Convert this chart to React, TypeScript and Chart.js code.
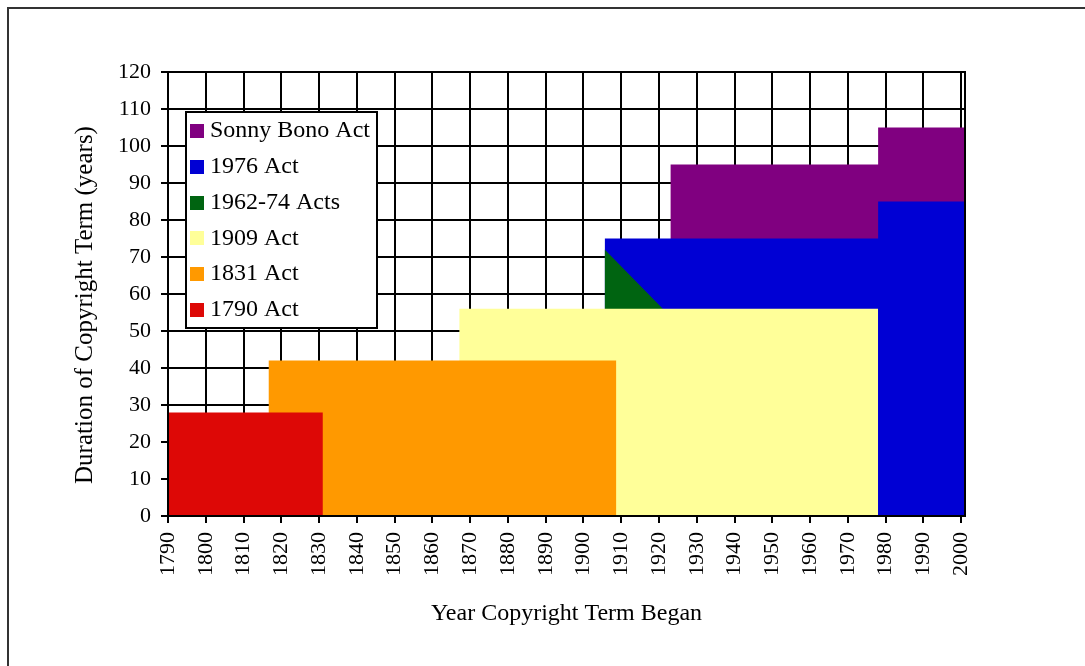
import React, { useEffect, useRef } from 'react';
import { Chart, registerables } from 'chart.js';

Chart.register(...registerables);

const FONT = '"Liberation Serif", "Times New Roman", serif';

// Tick labels
const yearTicks = [1790, 1800, 1810, 1820, 1830, 1840, 1850, 1860, 1870, 1880, 1890, 1900, 1910, 1920, 1930, 1940, 1950, 1960, 1970, 1980, 1990, 2000];
const termTicks = [0, 10, 20, 30, 40, 50, 60, 70, 80, 90, 100, 110, 120];

// Series (drawn back-to-front: last one is at the back)
const seriesNames = ['1790 Act', '1831 Act', '1909 Act', '1962-74 Acts', '1976 Act', 'Sonny Bono Act'];
const seriesColors = ['#DD0806', '#FF9900', '#FFFF99', '#006411', '#0000D4', '#800080'];

const act1790Years = [1790, 1831, 1831];
const act1790Terms = [28, 28, 0];

const act1831Years = [1816.6, 1816.6, 1908.7, 1908.7];
const act1831Terms = [0, 42, 42, 0];

const act1909Years = [1867.1, 1867.1, 1978, 1978];
const act1909Terms = [0, 56, 56, 0];

const acts1962Years = [1905.6, 1905.6, 1921, 1921];
const acts1962Terms = [0, 72, 56, 0];

const act1976Years = [1905.6, 1905.6, 1978, 1978, 2001, 2001];
const act1976Terms = [0, 75, 75, 85, 85, 0];

const bonoYears = [1923, 1923, 1978, 1978, 2001, 2001];
const bonoTerms = [0, 95, 95, 105, 105, 0];

const xTitle = 'Year Copyright Term Began';
const yTitle = 'Duration of Copyright Term (years)';

const framePlugin = {
  id: 'frameAndLegend',
  afterDatasetsDraw(chart: any) {
    const { ctx, chartArea } = chart;
    ctx.save();
    // plot-area frame drawn over the areas
    ctx.strokeStyle = '#000';
    ctx.lineWidth = 2;
    ctx.strokeRect(chartArea.left, chartArea.top, chartArea.right - chartArea.left, chartArea.bottom - chartArea.top);

    // legend box
    const bx = 186, by = 112, bw = 191, bh = 216;
    ctx.fillStyle = '#fff';
    ctx.fillRect(bx, by, bw, bh);
    ctx.strokeRect(bx, by, bw, bh);
    ctx.font = `24px ${FONT}`;
    ctx.textBaseline = 'middle';
    ctx.textAlign = 'left';
    const ds = chart.data.datasets;
    for (let i = 0; i < ds.length; i++) {
      const d = ds[ds.length - 1 - i];
      const cy = 131 + i * 35.8;
      ctx.fillStyle = d.backgroundColor;
      ctx.fillRect(190, Math.round(cy - 7), 14, 14);
      ctx.fillStyle = '#000';
      ctx.fillText(d.label, 210, cy);
    }

    // y axis title
    ctx.translate(85.5, 305);
    ctx.rotate(-Math.PI / 2);
    ctx.font = `25px ${FONT}`;
    ctx.textAlign = 'center';
    ctx.textBaseline = 'middle';
    ctx.fillStyle = '#000';
    ctx.fillText(yTitle, 0, 0);
    ctx.restore();
  },
};

export default function App() {
  const ref = useRef<HTMLCanvasElement>(null);

  useEffect(() => {
    const canvas = ref.current;
    if (!canvas) return;
    const mk = (xs: number[], ys: number[]) => xs.map((x, i) => ({ x, y: ys[i] }));
    const seriesPoints = [
      mk(act1790Years, act1790Terms),
      mk(act1831Years, act1831Terms),
      mk(act1909Years, act1909Terms),
      mk(acts1962Years, acts1962Terms),
      mk(act1976Years, act1976Terms),
      mk(bonoYears, bonoTerms),
    ];
    const chart = new Chart(canvas, {
      type: 'line',
      data: {
        datasets: seriesNames.map((name, i) => ({
          label: name,
          data: seriesPoints[i],
          backgroundColor: seriesColors[i],
          borderColor: seriesColors[i],
          borderWidth: 0,
          pointRadius: 0,
          fill: 'origin',
          tension: 0,
        })),
      },
      options: {
        responsive: false,
        animation: false,
        layout: { padding: { left: 0, right: 120, top: 72, bottom: 0 } },
        plugins: { legend: { display: false }, tooltip: { enabled: false } },
        scales: {
          x: {
            type: 'linear',
            min: 1790,
            max: 2001,
            afterBuildTicks: (s: any) => {
              s.ticks = yearTicks.map((v) => ({ value: v }));
            },
            afterFit: (s: any) => {
              s.height = 150;
            },
            ticks: {
              autoSkip: false,
              minRotation: 90,
              maxRotation: 90,
              padding: 9,
              color: '#000',
              font: { family: FONT, size: 22 },
              callback: (v: any) => String(v),
            },
            grid: { color: '#000', lineWidth: 2, tickLength: 7 },
            border: { color: '#000', width: 2 },
            title: {
              display: true,
              text: xTitle,
              color: '#000',
              font: { family: FONT, size: 24 },
              padding: { top: 0, bottom: 38 },
            },
          },
          y: {
            type: 'linear',
            min: 0,
            max: 120,
            afterBuildTicks: (s: any) => {
              s.ticks = termTicks.map((v) => ({ value: v }));
            },
            afterFit: (s: any) => {
              s.width = 168;
            },
            ticks: {
              padding: 10,
              color: '#000',
              font: { family: FONT, size: 22 },
              callback: (v: any) => String(v),
            },
            grid: { color: '#000', lineWidth: 2, tickLength: 7 },
            border: { color: '#000', width: 2 },
          },
        },
      },
      plugins: [framePlugin],
    } as any);
    return () => chart.destroy();
  }, []);

  return (
    <div style={{ position: 'fixed', left: 0, top: 0, width: 1085, height: 666, overflow: 'hidden', background: '#fff' }}>
      <div
        style={{
          position: 'absolute',
          left: 7,
          top: 7,
          width: 1200,
          height: 800,
          borderLeft: '2px solid #333',
          borderTop: '2px solid #333',
        }}
      />
      <canvas ref={ref} width={1085} height={666} style={{ position: 'absolute', left: 0, top: 0, width: 1085, height: 666 }} />
    </div>
  );
}
